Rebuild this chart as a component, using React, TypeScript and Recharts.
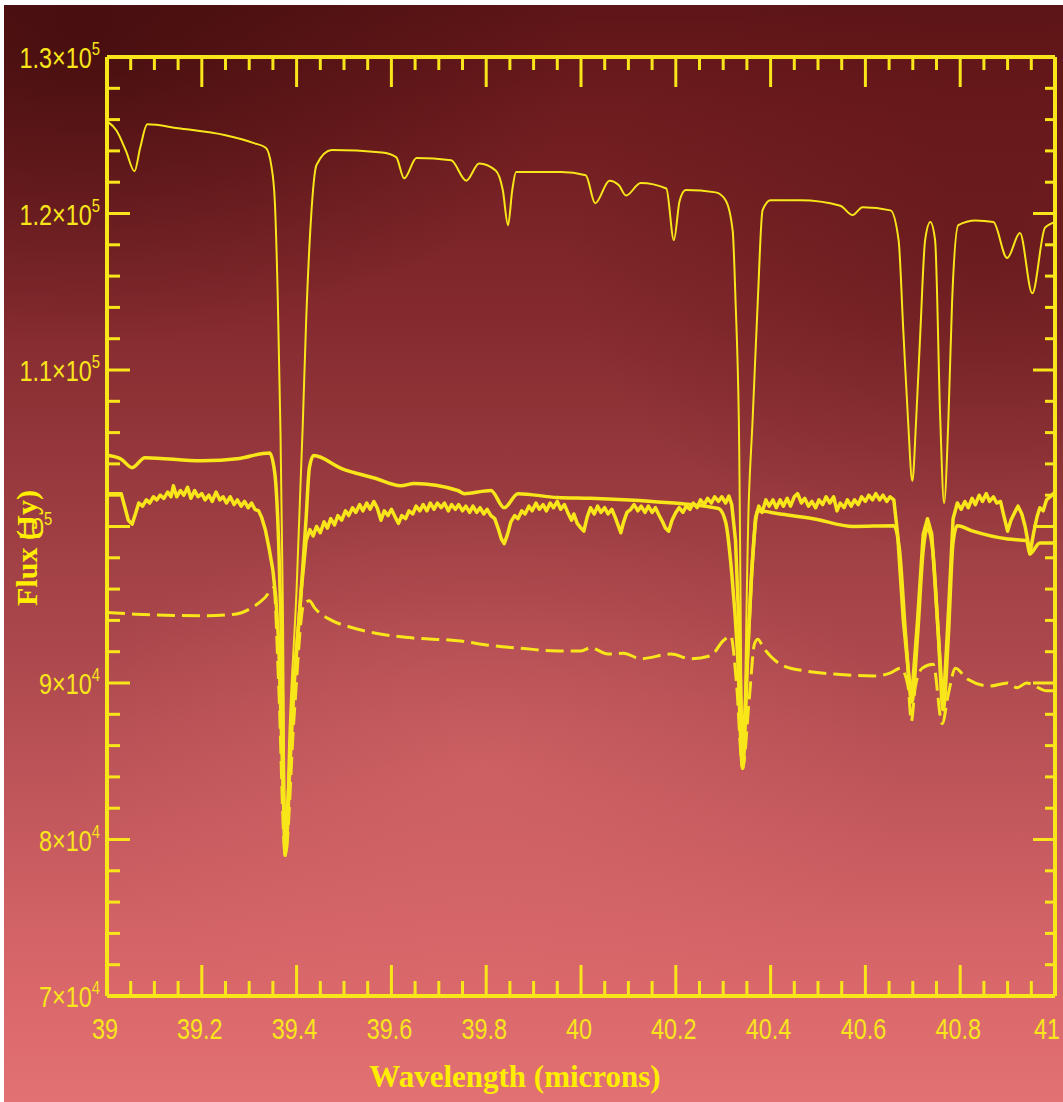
import { LineChart, Line, XAxis, YAxis } from "recharts";

const YELLOW = "#f8e61a";
const TITLE = "#ffee00";

// wavelength (microns) ticks, labelled every 0.2
const xTicks = [
  39, 39.05, 39.1, 39.15, 39.2, 39.25, 39.3, 39.35, 39.4, 39.45, 39.5, 39.55, 39.6, 39.65, 39.7, 39.75,
  39.8, 39.85, 39.9, 39.95, 40, 40.05, 40.1, 40.15, 40.2, 40.25, 40.3, 40.35, 40.4, 40.45, 40.5, 40.55,
  40.6, 40.65, 40.7, 40.75, 40.8, 40.85, 40.9, 40.95, 41,
];
// flux (Jy) ticks, labelled every 10^4
const yTicks = [
  70000, 72000, 74000, 76000, 78000, 80000, 82000, 84000, 86000, 88000, 90000, 92000, 94000, 96000,
  98000, 100000, 102000, 104000, 106000, 108000, 110000, 112000, 114000, 116000, 118000, 120000,
  122000, 124000, 126000, 128000, 130000,
];
const yLabels: Record<number, [string, string]> = {
  130000: ["1.3×10", "5"],
  120000: ["1.2×10", "5"],
  110000: ["1.1×10", "5"],
  100000: ["10", "5"],
  90000: ["9×10", "4"],
  80000: ["8×10", "4"],
  70000: ["7×10", "4"],
};

// top thin spectrum
const upperThin = [
  [39.0, 125900], [39.02, 125300], [39.04, 124000], [39.058, 122700], [39.07, 124200], [39.085, 125700],
  [39.15, 125450], [39.25, 125000], [39.31, 124500], [39.335, 124200], [39.347, 123000], [39.354, 120800],
  [39.36, 115000], [39.366, 106000], [39.371, 95000], [39.376, 79000], [39.385, 87000], [39.4, 96000],
  [39.413, 106500], [39.42, 113000], [39.43, 119500], [39.442, 123100], [39.474, 124050], [39.58, 123900],
  [39.61, 123600], [39.627, 122250], [39.653, 123550], [39.726, 123400], [39.758, 122100], [39.785, 123200],
  [39.82, 122750], [39.835, 121500], [39.846, 119250], [39.855, 121500], [39.863, 122650], [39.958, 122650],
  [40.01, 122450], [40.03, 120650], [40.06, 122100], [40.08, 121800], [40.095, 121150], [40.126, 121950],
  [40.18, 121600], [40.196, 118300], [40.208, 120800], [40.221, 121500], [40.284, 121350], [40.305, 120850],
  [40.32, 118900], [40.326, 114450], [40.333, 106770], [40.341, 84560], [40.354, 101650], [40.362, 106770],
  [40.373, 114450], [40.383, 120200], [40.4, 120850], [40.463, 120850], [40.547, 120500], [40.573, 119900],
  [40.594, 120400], [40.653, 120200], [40.67, 118300], [40.68, 112500], [40.69, 106770], [40.699, 102900],
  [40.707, 106770], [40.716, 112500], [40.726, 118300], [40.737, 119450], [40.747, 118300], [40.758, 106770],
  [40.766, 101500], [40.775, 106770], [40.783, 114450], [40.796, 119250], [40.832, 119550], [40.87, 119450],
  [40.899, 117150], [40.926, 118750], [40.952, 114900], [40.979, 119100], [41.0, 119450],
];

// smooth thick spectrum
const smoothThick = [
  [39.0, 104550], [39.03, 104300], [39.053, 103760], [39.08, 104400], [39.2, 104200], [39.28, 104350],
  [39.326, 104650], [39.343, 104700], [39.354, 103400], [39.362, 99100], [39.368, 93000], [39.376, 79000],
  [39.39, 88000], [39.41, 96000], [39.42, 100500], [39.427, 103760], [39.436, 104530], [39.495, 103700],
  [39.564, 103100], [39.62, 102600], [39.648, 102750], [39.74, 102300], [39.754, 102100], [39.81, 102300],
  [39.838, 101200], [39.867, 102100], [39.95, 101850], [40.02, 101800], [40.15, 101600], [40.29, 101150],
  [40.305, 100300], [40.318, 97000], [40.33, 92000], [40.341, 84560], [40.352, 92000], [40.362, 98000],
  [40.373, 101000], [40.42, 100800], [40.49, 100500], [40.575, 100000], [40.66, 100050], [40.672, 98500],
  [40.685, 93000], [40.698, 88800], [40.71, 93000], [40.722, 98500], [40.731, 99900], [40.742, 98500],
  [40.754, 93000], [40.764, 88300], [40.775, 93000], [40.785, 99000], [40.794, 100050], [40.827, 99700],
  [40.9, 99200], [40.94, 99100], [40.947, 98250], [40.968, 98950], [41.0, 98950],
];

// noisy thick spectrum
const noisyThick = [
  [39.0, 102100], [39.03, 102100], [39.038, 101200], [39.045, 100400], [39.053, 100150], [39.06, 100800],
  [39.067, 101500], [39.075, 101300], [39.083, 101700], [39.09, 101500], [39.098, 101900], [39.105, 101700],
  [39.112, 102000], [39.12, 101800], [39.128, 102200], [39.135, 101900], [39.14, 102600], [39.147, 101900],
  [39.155, 102300], [39.162, 102000], [39.17, 102500], [39.177, 101800], [39.185, 102300], [39.192, 101900],
  [39.2, 102100], [39.207, 101700], [39.215, 102000], [39.222, 101600], [39.23, 102200], [39.238, 101700],
  [39.245, 101900], [39.252, 101500], [39.26, 101900], [39.268, 101400], [39.275, 101700], [39.283, 101300],
  [39.29, 101600], [39.298, 101200], [39.305, 101500], [39.312, 101100], [39.32, 101000], [39.326, 100600],
  [39.334, 99800], [39.342, 98600], [39.35, 97200], [39.356, 95500], [39.362, 92700], [39.376, 79000],
  [39.395, 90000], [39.41, 96000], [39.42, 99100], [39.428, 99800], [39.435, 99400], [39.442, 100000],
  [39.45, 99600], [39.458, 100300], [39.465, 99900], [39.472, 100500], [39.48, 100100], [39.487, 100700],
  [39.495, 100400], [39.503, 101000], [39.51, 100700], [39.518, 101200], [39.525, 100900], [39.533, 101400],
  [39.54, 101000], [39.548, 101500], [39.555, 101100], [39.563, 101600], [39.57, 101200], [39.578, 100400],
  [39.585, 101000], [39.593, 100700], [39.6, 101100], [39.608, 100600], [39.615, 100200], [39.622, 100700],
  [39.63, 100500], [39.637, 101000], [39.645, 100800], [39.652, 101300], [39.66, 101000], [39.667, 101400],
  [39.675, 101000], [39.682, 101500], [39.69, 101100], [39.697, 101500], [39.705, 101200], [39.712, 101500],
  [39.72, 101000], [39.727, 101400], [39.735, 101100], [39.742, 101400], [39.75, 101000], [39.757, 101300],
  [39.765, 100900], [39.772, 101300], [39.78, 100900], [39.787, 101200], [39.795, 100800], [39.802, 101100],
  [39.81, 100700], [39.818, 100500], [39.825, 99900], [39.832, 99200], [39.838, 98900], [39.845, 99500],
  [39.852, 100300], [39.86, 100700], [39.867, 100500], [39.875, 101000], [39.882, 100800], [39.89, 101300],
  [39.897, 101000], [39.905, 101500], [39.912, 101100], [39.92, 101400], [39.927, 101000], [39.935, 101500],
  [39.942, 101200], [39.95, 101600], [39.957, 101100], [39.965, 101400], [39.972, 100900], [39.98, 100400],
  [39.985, 100800], [39.992, 100200], [40.0, 99900], [40.006, 99700], [40.013, 100600], [40.02, 101200],
  [40.028, 100800], [40.035, 101300], [40.042, 100900], [40.05, 101200], [40.057, 100800], [40.065, 101100],
  [40.072, 100600], [40.078, 100100], [40.084, 99600], [40.09, 100300], [40.097, 100900], [40.105, 101100],
  [40.112, 101400], [40.12, 101000], [40.127, 101300], [40.135, 100900], [40.142, 101300], [40.15, 100900],
  [40.157, 101200], [40.165, 100700], [40.172, 100300], [40.178, 99900], [40.185, 99700], [40.192, 100400],
  [40.2, 100900], [40.207, 101200], [40.215, 100900], [40.222, 101300], [40.23, 101100], [40.237, 101500],
  [40.245, 101200], [40.252, 101700], [40.26, 101400], [40.267, 101800], [40.275, 101500], [40.282, 101900],
  [40.29, 101600], [40.297, 101900], [40.305, 101500], [40.312, 101950], [40.318, 101400], [40.326, 99100],
  [40.334, 93000], [40.341, 84560], [40.35, 91000], [40.36, 97000], [40.368, 100500], [40.375, 101300],
  [40.382, 100900], [40.39, 101700], [40.397, 101300], [40.405, 101700], [40.412, 101200], [40.42, 101700],
  [40.427, 101300], [40.435, 101800], [40.442, 101300], [40.45, 101900], [40.457, 102100], [40.465, 101500],
  [40.472, 101800], [40.48, 101300], [40.487, 101600], [40.495, 101200], [40.502, 101700], [40.51, 101400],
  [40.517, 101900], [40.525, 101500], [40.533, 101900], [40.54, 101000], [40.547, 101500], [40.555, 101200],
  [40.562, 101700], [40.57, 101300], [40.577, 101700], [40.585, 101400], [40.592, 101900], [40.6, 101600],
  [40.607, 102000], [40.615, 101700], [40.622, 102100], [40.63, 101700], [40.637, 102000], [40.645, 101600],
  [40.652, 101900], [40.66, 101700], [40.668, 99500], [40.68, 94000], [40.697, 88800], [40.71, 94000],
  [40.722, 99500], [40.731, 100500], [40.74, 99500], [40.752, 94000], [40.764, 88300], [40.776, 95000],
  [40.785, 100500], [40.794, 101500], [40.802, 101100], [40.81, 101600], [40.817, 101200], [40.825, 101800],
  [40.832, 101400], [40.84, 102000], [40.847, 101600], [40.855, 102100], [40.862, 101600], [40.87, 101900],
  [40.877, 101500], [40.885, 101600], [40.892, 100700], [40.9, 99700], [40.907, 100400], [40.915, 100900],
  [40.922, 101300], [40.93, 100800], [40.937, 100000], [40.943, 99000], [40.947, 98250], [40.955, 99600],
  [40.962, 100600], [40.968, 101200], [40.975, 101000], [40.982, 101700], [40.99, 101900], [41.0, 102200],
];

// dashed lower spectrum
const dashedLower = [
  [39.0, 94500], [39.06, 94400], [39.2, 94300], [39.27, 94400], [39.305, 94800], [39.333, 95450],
  [39.352, 96100], [39.362, 90000], [39.376, 79000], [39.395, 88000], [39.415, 95000], [39.427, 95250],
  [39.438, 94800], [39.474, 94000], [39.516, 93550], [39.564, 93200], [39.636, 92900], [39.74, 92700],
  [39.81, 92400], [39.88, 92200], [39.95, 92050], [40.0, 92050], [40.02, 92250], [40.057, 91850],
  [40.09, 91900], [40.126, 91550], [40.19, 91850], [40.23, 91550], [40.274, 91750], [40.3, 92700],
  [40.316, 93000], [40.328, 90000], [40.341, 84560], [40.355, 89000], [40.366, 92500], [40.373, 92800],
  [40.385, 92250], [40.427, 91100], [40.478, 90750], [40.547, 90550], [40.617, 90450], [40.653, 90650],
  [40.674, 90950], [40.69, 89800], [40.697, 87550], [40.705, 89700], [40.72, 90950], [40.743, 91200],
  [40.762, 87400], [40.775, 89300], [40.79, 90950], [40.815, 90250], [40.863, 89800], [40.9, 90000],
  [40.92, 89700], [40.94, 90000], [40.983, 89500], [41.0, 89500],
];

const toRows = (pts: number[][]) => pts.map(([x, y]) => ({ x, y }));

const isMajorX = (v: number) => Math.abs(v * 5 - Math.round(v * 5)) < 1e-6;
const isMajorY = (v: number) => v % 10000 === 0;
const numFont = { fontFamily: "Liberation Sans", fontSize: 30, fill: YELLOW };

function BottomTick({ x, y, payload }: any) {
  const v = payload.value;
  const major = isMajorX(v);
  const last = v >= 41;
  return (
    <g>
      <line x1={x} y1={y} x2={x} y2={y - (major ? 31 : 15)} stroke={YELLOW} strokeWidth={3} />
      {major && (
        <g transform={`translate(${last ? x + 5 : x - 2},${y + 43}) scale(0.78,1)`}>
          <text x={0} y={0} textAnchor={last ? "end" : "middle"} {...numFont}>
            {String(Number(v.toFixed(1)))}
          </text>
        </g>
      )}
    </g>
  );
}

function TopTick({ x, y, payload }: any) {
  const major = isMajorX(payload.value);
  return <line x1={x} y1={y} x2={x} y2={y + (major ? 30 : 13)} stroke={YELLOW} strokeWidth={3} />;
}

function LeftTick({ x, y, payload }: any) {
  const v = payload.value;
  const major = isMajorY(v);
  const lab = yLabels[v];
  const start = v === 100000;
  return (
    <g>
      <line x1={x} y1={y} x2={x + (major ? 23 : 13)} y2={y} stroke={YELLOW} strokeWidth={3} />
      {lab && (
        <g transform={`translate(${start ? 18 : x - 7},${y + 11}) scale(0.78,1)`}>
          <text x={0} y={0} textAnchor={start ? "start" : "end"} {...numFont}>
            {lab[0]}
            <tspan fontSize={19} dy={-13}>
              {lab[1]}
            </tspan>
          </text>
        </g>
      )}
    </g>
  );
}

function RightTick({ x, y, payload }: any) {
  const major = isMajorY(payload.value);
  return <line x1={x} y1={y} x2={x - (major ? 22 : 10)} y2={y} stroke={YELLOW} strokeWidth={3} />;
}

const frame = { stroke: YELLOW, strokeWidth: 4 };

export default function App() {
  return (
    <div
      style={{
        position: "absolute",
        left: 0,
        top: 0,
        width: 1063,
        height: 1102,
        background: "#fff",
      }}
    >
      <div
        style={{
          position: "absolute",
          left: 4,
          top: 5,
          right: 0,
          bottom: 0,
          background:
            "radial-gradient(ellipse 420px 260px at 480px 760px, rgba(235,120,120,0.35), rgba(235,120,120,0) 100%)," +
            "radial-gradient(ellipse 500px 300px at 80px 40px, rgba(50,8,8,0.55), rgba(50,8,8,0) 100%)," +
            "radial-gradient(ellipse 420px 300px at 980px 250px, rgba(70,8,8,0.35), rgba(70,8,8,0) 100%)," +
            "linear-gradient(to bottom, #5e1517 0%, #6f1c1f 10%, #842a2e 28%, #9a3b40 45%, #b04b50 62%, #c95c60 78%, #da686b 90%, #e27173 100%)",
        }}
      />
      <div style={{ position: "absolute", left: 0, top: 0 }}>
        <LineChart width={1063} height={1102} margin={{ top: 56, right: 7, left: 7, bottom: 46 }}>
          <XAxis
            dataKey="x"
            type="number"
            domain={[39, 41]}
            ticks={xTicks}
            interval={0}
            allowDataOverflow
            height={60}
            tickSize={0}
            tickMargin={0}
            tickLine={false}
            axisLine={frame}
            tick={<BottomTick />}
          />
          <XAxis
            xAxisId="top"
            orientation="top"
            dataKey="x"
            type="number"
            domain={[39, 41]}
            ticks={xTicks}
            interval={0}
            allowDataOverflow
            height={1}
            tickSize={0}
            tickMargin={0}
            tickLine={false}
            axisLine={frame}
            tick={<TopTick />}
          />
          <YAxis
            type="number"
            domain={[70000, 130000]}
            ticks={yTicks}
            interval={0}
            allowDataOverflow
            width={100}
            tickSize={0}
            tickMargin={0}
            tickLine={false}
            axisLine={frame}
            tick={<LeftTick />}
          />
          <YAxis
            yAxisId="right"
            orientation="right"
            type="number"
            domain={[70000, 130000]}
            ticks={yTicks}
            interval={0}
            allowDataOverflow
            width={1}
            tickSize={0}
            tickMargin={0}
            tickLine={false}
            axisLine={frame}
            tick={<RightTick />}
          />
          <Line
            data={toRows(dashedLower)}
            dataKey="y"
            type="monotoneX"
            stroke={YELLOW}
            strokeWidth={3}
            strokeDasharray="18 7"
            dot={false}
            isAnimationActive={false}
          />
          <Line
            data={toRows(smoothThick)}
            dataKey="y"
            type="monotoneX"
            stroke={YELLOW}
            strokeWidth={3.5}
            dot={false}
            isAnimationActive={false}
          />
          <Line
            data={toRows(noisyThick)}
            dataKey="y"
            type="linear"
            stroke={YELLOW}
            strokeWidth={3.5}
            strokeLinejoin="round"
            dot={false}
            isAnimationActive={false}
          />
          <Line
            data={toRows(upperThin)}
            dataKey="y"
            type="monotoneX"
            stroke={YELLOW}
            strokeWidth={2}
            dot={false}
            isAnimationActive={false}
          />
        </LineChart>
      </div>
      <div
        style={{
          position: "absolute",
          left: 27,
          top: 548,
          transform: "translate(-50%, -50%) rotate(-90deg)",
          whiteSpace: "nowrap",
          fontFamily: "Liberation Serif",
          fontWeight: "bold",
          fontSize: 30,
          lineHeight: 1,
          color: TITLE,
        }}
      >
        Flux (Jy)
      </div>
      <div
        style={{
          position: "absolute",
          left: 515,
          top: 1061,
          transform: "translateX(-50%)",
          whiteSpace: "nowrap",
          fontFamily: "Liberation Serif",
          fontWeight: "bold",
          fontSize: 31,
          lineHeight: 1,
          color: TITLE,
        }}
      >
        Wavelength (microns)
      </div>
    </div>
  );
}
